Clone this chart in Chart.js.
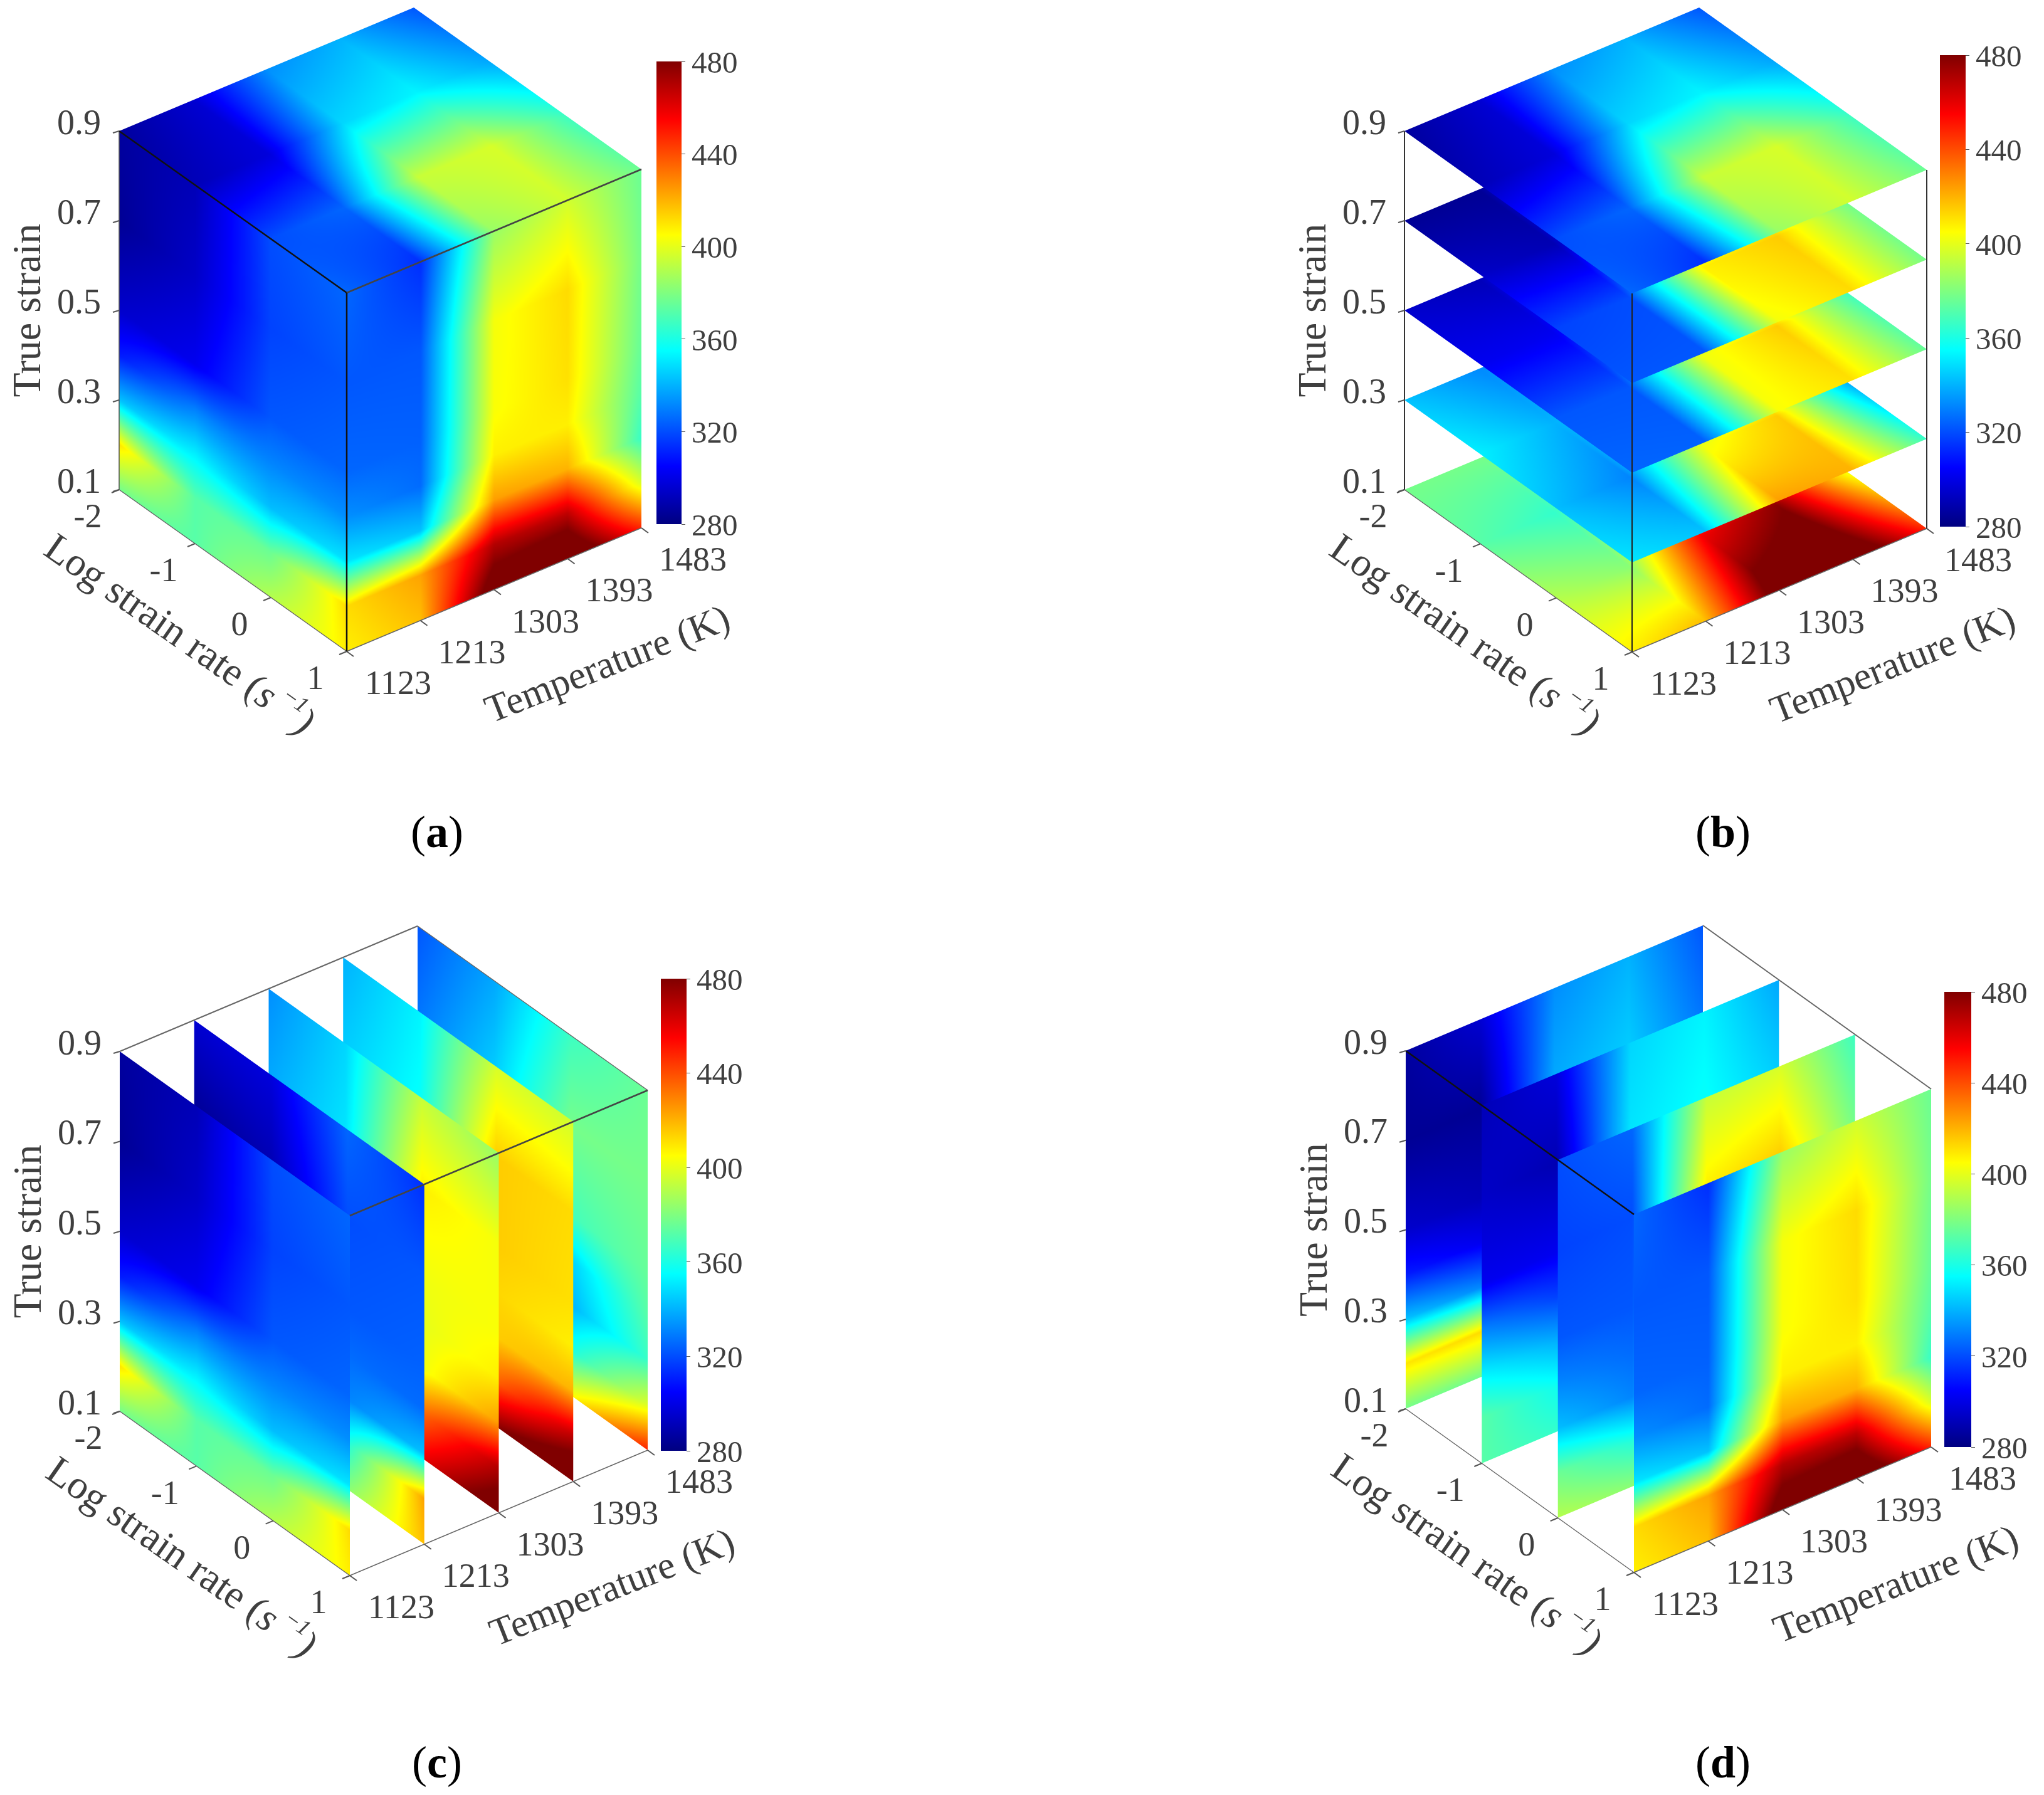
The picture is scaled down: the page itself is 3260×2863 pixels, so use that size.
<!DOCTYPE html>
<html lang="en">
<head>
    <meta charset="UTF-8">
    <title>Flow stress cubes</title>
    <style>
        body { margin: 0; background: #fff; width: 3260px; height: 2863px; position: relative; overflow: hidden; }
        canvas { position: absolute; }
        .caption {
            position: absolute;
            width: 200px;
            text-align: center;
            font-family: "Liberation Serif", serif;
            font-size: 72px;
            line-height: 80px;
            color: #000;
        }
    </style>
    <script src="https://cdn.jsdelivr.net/npm/chart.js"></script>
</head>
<body>
    <canvas id="chartA" width="1630" height="1260" style="left:0;top:0"></canvas>
    <canvas id="chartB" width="1630" height="1260" style="left:1630px;top:0"></canvas>
    <canvas id="chartC" width="1630" height="1260" style="left:0;top:1430px"></canvas>
    <canvas id="chartD" width="1630" height="1260" style="left:1630px;top:1430px"></canvas>
    <div class="caption" style="left:597px;top:1287px">(<b>a</b>)</div>
    <div class="caption" style="left:2648px;top:1287px">(<b>b</b>)</div>
    <div class="caption" style="left:597px;top:2771px">(<b>c</b>)</div>
    <div class="caption" style="left:2648px;top:2771px">(<b>d</b>)</div>

    <script>
        // axes
        var temperatures = [1123, 1213, 1303, 1393, 1483];
        var logRates = [-2, -1, 0, 1];
        var strainTicks = [0.1, 0.3, 0.5, 0.7, 0.9];
        var colorTicks = [280, 320, 360, 400, 440, 480];

        var strainLevels = [0.1, 0.2, 0.3, 0.4, 0.5, 0.7, 0.9];
        var stress01 = [[378, 378, 385, 392, 385], [372, 365, 390, 405, 392], [390, 382, 458, 478, 404], [408, 418, 492, 502, 448]];
        var stress02 = [[410, 412, 378, 375, 365], [372, 358, 372, 385, 370], [376, 362, 434, 436, 360], [412, 423, 470, 468, 398]];
        var stress03 = [[343, 332, 338, 340, 335], [352, 340, 345, 350, 338], [342, 331, 402, 415, 340], [350, 343, 424, 420, 366]];
        var stress04 = [[310, 302, 325, 332, 325], [330, 318, 335, 345, 335], [331, 326, 400, 413, 346], [333, 326, 408, 408, 372]];
        var stress05 = [[295, 291, 330, 338, 325], [302, 302, 340, 348, 336], [322, 322, 402, 415, 368], [325, 324, 404, 411, 375]];
        var stress07 = [[284, 284, 338, 345, 328], [294, 290, 350, 356, 345], [318, 320, 408, 415, 378], [322, 322, 403, 412, 378]];
        var stress09 = [[286, 296, 333, 340, 322], [291, 298, 347, 353, 338], [320, 325, 394, 397, 367], [325, 314, 385, 396, 376]];
        var stressByStrain = [stress01, stress02, stress03, stress04, stress05, stress07, stress09];

        var TEXT_FONT = '"Liberation Serif", serif';
        var TEXT_COLOR = '#3f3f3f';

        var jetStops = [
            [0, [0, 0, 128]], [0.125, [0, 0, 255]], [0.375, [0, 255, 255]],
            [0.625, [255, 255, 0]], [0.875, [255, 0, 0]], [1, [128, 0, 0]]
        ];

        function jet(t) {
            t = Math.max(0, Math.min(1, t));
            for (var i = 1; i < jetStops.length; i++) {
                if (t <= jetStops[i][0]) {
                    var a = jetStops[i - 1], b = jetStops[i];
                    var f = (t - a[0]) / (b[0] - a[0]);
                    return [0, 1, 2].map(function (k) { return a[1][k] + (b[1][k] - a[1][k]) * f; });
                }
            }
            return jetStops[jetStops.length - 1][1];
        }

        // position of v in a sorted grid: lower index and fraction
        function locate(grid, v) {
            for (var i = 0; i < grid.length - 2; i++) {
                if (v < grid[i + 1]) break;
            }
            return [i, (v - grid[i]) / (grid[i + 1] - grid[i])];
        }

        function stressAt(temp, rate, strain) {
            var t = locate(temperatures, temp), r = locate(logRates, rate), s = locate(strainLevels, strain);
            function plane(m) {
                var top = m[r[0]][t[0]] * (1 - t[1]) + m[r[0]][t[0] + 1] * t[1];
                var bot = m[r[0] + 1][t[0]] * (1 - t[1]) + m[r[0] + 1][t[0] + 1] * t[1];
                return top * (1 - r[1]) + bot * r[1];
            }
            return plane(stressByStrain[s[0]]) * (1 - s[1]) + plane(stressByStrain[s[0] + 1]) * s[1];
        }

        var T0 = temperatures[0], T1 = temperatures[temperatures.length - 1];
        var R0 = logRates[0], R1 = logRates[logRates.length - 1];
        var S0 = strainTicks[0], S1 = strainTicks[strainTicks.length - 1];
        var C0 = colorTicks[0], C1 = colorTicks[colorTicks.length - 1];

        // one slice as an image in (u, v), placed later with an affine transform
        var sliceCache = {};
        function sliceImage(axis, value) {
            var key = axis + value;
            if (sliceCache[key]) return sliceCache[key];
            var n = 400;
            var off = document.createElement('canvas');
            off.width = n; off.height = n;
            var octx = off.getContext('2d');
            var img = octx.createImageData(n, n);
            for (var j = 0; j < n; j++) {
                for (var i = 0; i < n; i++) {
                    var u = i / (n - 1), v = j / (n - 1), val;
                    if (axis === 'strain') val = stressAt(T0 + (T1 - T0) * u, R0 + (R1 - R0) * v, value);
                    else if (axis === 'T') val = stressAt(value, R0 + (R1 - R0) * u, S0 + (S1 - S0) * v);
                    else val = stressAt(T0 + (T1 - T0) * u, value, S0 + (S1 - S0) * v);
                    var c = jet((val - C0) / (C1 - C0));
                    var o = (j * n + i) * 4;
                    img.data[o] = c[0]; img.data[o + 1] = c[1]; img.data[o + 2] = c[2]; img.data[o + 3] = 255;
                }
            }
            octx.putImageData(img, 0, 0);
            sliceCache[key] = off;
            return off;
        }

        // how far along a hidden scale a value sits, 0 to 1
        function along(scale, value) {
            var a = scale.getPixelForValue(scale.min);
            var b = scale.getPixelForValue(scale.max);
            return (scale.getPixelForValue(value) - a) / (b - a);
        }

        function cubePlugin(panel) {
            return {
                id: 'cube',
                afterDraw: function (chart) {
                    var ctx = chart.ctx;
                    var sc = chart.scales;

                    function P(temp, rate, strain) {
                        var a = along(sc.T, temp);
                        var b = along(sc.R, rate);
                        var c = along(sc.S, strain);
                        return {
                            x: panel.base[0] + a * panel.tVec[0] + b * panel.rVec[0],
                            y: panel.base[1] + a * panel.tVec[1] + b * panel.rVec[1] - c * panel.height
                        };
                    }

                    function drawSlice(axis, value) {
                        var o, pu, pv;
                        if (axis === 'strain') { o = P(T0, R0, value); pu = P(T1, R0, value); pv = P(T0, R1, value); }
                        else if (axis === 'T') { o = P(value, R0, S0); pu = P(value, R1, S0); pv = P(value, R0, S1); }
                        else { o = P(T0, value, S0); pu = P(T1, value, S0); pv = P(T0, value, S1); }
                        ctx.save();
                        ctx.transform(pu.x - o.x, pu.y - o.y, pv.x - o.x, pv.y - o.y, o.x, o.y);
                        ctx.drawImage(sliceImage(axis, value), 0, 0, 1, 1);
                        ctx.restore();
                    }

                    panel.slices.forEach(function (s) { drawSlice(s[0], s[1]); });

                    function corner(c) {
                        return P(c[0] ? T1 : T0, c[1] ? R1 : R0, c[2] ? S1 : S0);
                    }
                    function line(a, b, color, width) {
                        ctx.beginPath();
                        ctx.moveTo(a.x, a.y);
                        ctx.lineTo(b.x, b.y);
                        ctx.strokeStyle = color;
                        ctx.lineWidth = width;
                        ctx.stroke();
                    }
                    panel.edges.forEach(function (e) { line(corner(e[0]), corner(e[1]), e[2], e[3]); });

                    // tick marks and labels, the axes are slanted so these go by hand
                    ctx.save();
                    ctx.fillStyle = TEXT_COLOR;
                    ctx.font = '56px ' + TEXT_FONT;
                    ctx.textBaseline = 'middle';
                    ctx.textAlign = 'right';
                    strainTicks.forEach(function (v) {
                        var p = P(T0, R0, v);
                        line(p, { x: p.x - 10, y: p.y + 3 }, '#555', 2);
                        ctx.fillText(v.toFixed(1), p.x - 29, p.y - 10);
                    });
                    ctx.font = '54px ' + TEXT_FONT;
                    ctx.textAlign = 'center';
                    logRates.forEach(function (v) {
                        var p = P(T0, v, S0);
                        line(p, { x: p.x - 12, y: p.y + 5 }, '#555', 2);
                        ctx.fillText(String(v), p.x - 50, p.y + 46);
                    });
                    temperatures.forEach(function (v) {
                        var p = P(v, R1, S0);
                        line(p, { x: p.x + 11, y: p.y + 8 }, '#555', 2);
                        ctx.fillText(String(v), p.x + 82, p.y + 54);
                    });

                    // axis titles
                    var m = P(T0, R0, (S0 + S1) / 2);
                    ctx.save();
                    ctx.translate(m.x - 143, m.y);
                    ctx.rotate(-Math.PI / 2);
                    ctx.font = '64px ' + TEXT_FONT;
                    ctx.fillText('True strain', 0, 0);
                    ctx.restore();

                    m = P((T0 + T1) / 2, R1, S0);
                    ctx.save();
                    ctx.translate(m.x + 182, m.y + 122);
                    ctx.rotate(-21.5 * Math.PI / 180);
                    ctx.font = '62px ' + TEXT_FONT;
                    ctx.fillText('Temperature (K)', 0, 0);
                    ctx.restore();

                    m = P(T0, (R0 + R1) / 2, S0);
                    ctx.save();
                    ctx.translate(m.x - 87, m.y + 105);
                    ctx.rotate(35 * Math.PI / 180);
                    var parts = [
                        ['Log strain rate (', '64px ' + TEXT_FONT, 0],
                        ['s', 'italic 64px ' + TEXT_FONT, 0],
                        [' \u22121', 'italic 36px ' + TEXT_FONT, -22],
                        [')', 'italic 64px ' + TEXT_FONT, 0]
                    ];
                    var total = 0;
                    parts.forEach(function (q) { ctx.font = q[1]; total += ctx.measureText(q[0]).width; });
                    var cx = -total / 2;
                    ctx.textAlign = 'left';
                    parts.forEach(function (q) {
                        ctx.font = q[1];
                        ctx.fillText(q[0], cx, q[2]);
                        cx += ctx.measureText(q[0]).width;
                    });
                    ctx.restore();
                    ctx.restore();
                }
            };
        }

        function colorbarFill(context) {
            var area = context.chart.chartArea;
            if (!area) return '#000';
            var y = context.chart.scales.y;
            var g = context.chart.ctx.createLinearGradient(0, y.getPixelForValue(C0), 0, y.getPixelForValue(C1));
            jetStops.forEach(function (s) {
                g.addColorStop(s[0], 'rgb(' + s[1].join(',') + ')');
            });
            return g;
        }

        var AXIS_W = 110;
        var bottomEdges = [
            [[0, 0, 0], [0, 1, 0], '#666', 1.5],
            [[0, 1, 0], [1, 1, 0], '#666', 1.5]
        ];

        function makeChart(id, canvasLeft, canvasTop, panel) {
            var canvas = document.getElementById(id);
            panel.base = [panel.origin[0] - canvasLeft, panel.origin[1] - canvasTop];
            var bar = panel.bar;
            return new Chart(canvas, {
                type: 'bar',
                data: {
                    labels: ['stress'],
                    datasets: [{
                        data: [[C0, C1]],
                        backgroundColor: colorbarFill,
                        barPercentage: 1,
                        categoryPercentage: 1
                    }]
                },
                options: {
                    responsive: false,
                    animation: false,
                    devicePixelRatio: 1,
                    layout: {
                        padding: {
                            left: bar[0] - canvasLeft,
                            right: canvas.width - (bar[1] - canvasLeft) - AXIS_W,
                            top: bar[2] - canvasTop,
                            bottom: canvas.height - (bar[3] - canvasTop)
                        }
                    },
                    plugins: { legend: { display: false }, tooltip: { enabled: false } },
                    scales: {
                        x: { display: false },
                        y: {
                            position: 'right',
                            min: C0,
                            max: C1,
                            afterFit: function (s) { s.width = AXIS_W; },
                            afterBuildTicks: function (s) {
                                s.ticks = colorTicks.map(function (v) { return { value: v }; });
                            },
                            grid: { drawOnChartArea: false, tickLength: 6, color: '#555' },
                            border: { display: false },
                            ticks: {
                                padding: 10,
                                labelOffset: 5,
                                color: TEXT_COLOR,
                                font: { family: 'Liberation Serif', size: 49 }
                            }
                        },
                        T: { type: 'linear', axis: 'x', display: false, min: T0, max: T1 },
                        R: { type: 'linear', axis: 'x', display: false, min: R0, max: R1 },
                        S: { type: 'linear', axis: 'y', display: false, min: S0, max: S1 }
                    }
                },
                plugins: [cubePlugin(panel)]
            });
        }

        // (a) outer faces of the cube
        makeChart('chartA', 0, 0, {
            origin: [190, 781], tVec: [470, -197], rVec: [363, 258], height: 572,
            bar: [1047, 1087, 98, 836],
            slices: [['strain', S1], ['T', T0], ['rate', R1]],
            edges: bottomEdges.concat([
                [[0, 0, 0], [0, 0, 1], '#555', 1.5],
                [[0, 0, 1], [0, 1, 1], '#111', 2.5],
                [[0, 1, 1], [1, 1, 1], '#444', 2.5],
                [[0, 1, 0], [0, 1, 1], '#111', 2.5]
            ])
        });

        // (b) slices at constant strain, lowest first
        makeChart('chartB', 1630, 0, {
            origin: [2240, 781], tVec: [470, -197], rVec: [363, 259], height: 572,
            bar: [3094, 3135, 88, 840],
            slices: strainTicks.map(function (v) { return ['strain', v]; }),
            edges: bottomEdges.concat([
                [[0, 0, 0], [0, 0, 1], '#333', 2],
                [[0, 1, 0], [0, 1, 1], '#222', 2],
                [[1, 1, 0], [1, 1, 1], '#333', 2]
            ])
        });

        // (c) slices at constant temperature, far one first
        makeChart('chartC', 0, 1430, {
            origin: [191, 2251], tVec: [475, -200], rVec: [367, 262], height: 574,
            bar: [1054, 1095, 1561, 2314],
            slices: temperatures.slice().reverse().map(function (v) { return ['T', v]; }),
            edges: bottomEdges.concat([
                [[0, 0, 1], [1, 0, 1], '#666', 2],
                [[1, 0, 1], [1, 1, 1], '#666', 1.5],
                [[0, 1, 1], [1, 1, 1], '#444', 2.5]
            ])
        });

        // (d) slices at constant log strain rate, far one first
        makeChart('chartD', 1630, 1430, {
            origin: [2242, 2247], tVec: [474, -200], rVec: [364, 261], height: 571,
            bar: [3101, 3144, 1582, 2308],
            slices: logRates.map(function (v) { return ['rate', v]; }),
            edges: bottomEdges.concat([
                [[0, 0, 1], [0, 1, 1], '#111', 2.5],
                [[1, 0, 1], [1, 1, 1], '#666', 2]
            ])
        });
    </script>
</body>
</html>
